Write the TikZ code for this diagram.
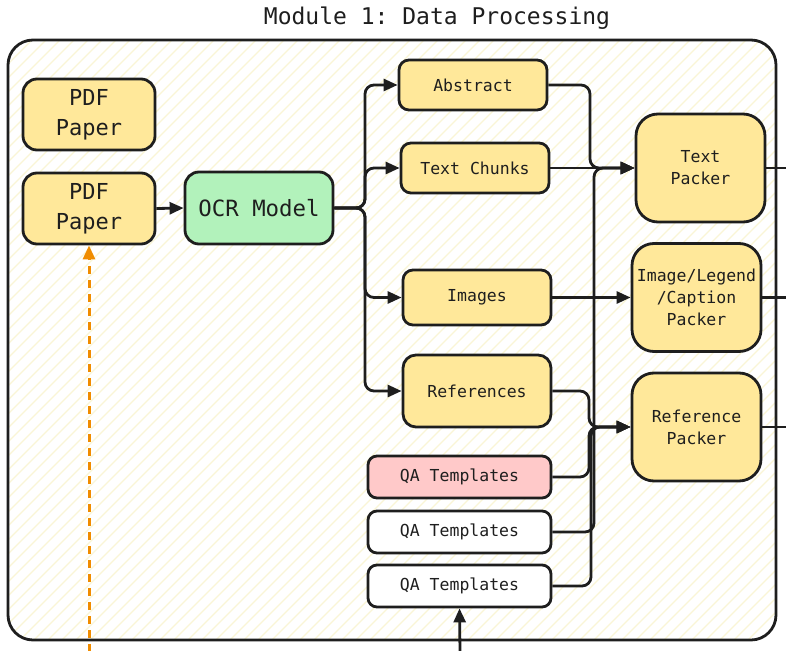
\documentclass[tikz,border=0pt]{standalone}
\usepackage{fontspec}
\setmonofont{DejaVu Sans Mono}
\usetikzlibrary{arrows.meta}
\definecolor{ink}{HTML}{1E1E1E}
\definecolor{boxyellow}{HTML}{FFE89A}
\definecolor{boxgreen}{HTML}{B2F2BB}
\definecolor{boxpink}{HTML}{FFC9C9}
\definecolor{hatch}{HTML}{FAF5D6}
\definecolor{orangeline}{HTML}{F08C00}
\tikzset{
  base/.style={draw=ink, line width=2.8pt, inner sep=0pt, align=center, text=ink},
  bigbox/.style={base, fill=boxyellow, rounded corners=14pt, minimum width=132pt, minimum height=71pt,
    font=\ttfamily\fontsize{22}{30}\selectfont},
  ocrbox/.style={base, fill=boxgreen, rounded corners=14pt, minimum width=148pt, minimum height=72pt,
    font=\ttfamily\fontsize{22.4}{30}\selectfont},
  smallbox/.style={base, rounded corners=10pt, minimum width=148pt, minimum height=50pt,
    font=\ttfamily\fontsize{16.5}{22}\selectfont},
  yb/.style={smallbox, fill=boxyellow},
  qabox/.style={smallbox, minimum width=183pt, minimum height=42pt, rounded corners=9pt},
  packbox/.style={base, fill=boxyellow, rounded corners=22pt, minimum width=129pt, minimum height=108pt,
    font=\ttfamily\fontsize{16.5}{22}\selectfont},
  conn/.style={draw=ink, line width=2.8pt, rounded corners=9pt, -{Triangle[length=14pt,width=12pt]}},
  plainconn/.style={draw=ink, line width=2.8pt},
  dashconn/.style={draw=orangeline, line width=3pt, dash pattern=on 8pt off 6pt, -{Triangle[length=14pt,width=12pt]}},
}
\begin{document}
\begin{tikzpicture}[x=1pt,y=-1pt]
\useasboundingbox (0,0) rectangle (786,650);
\fill[white] (0,0) rectangle (786,650);
% frame with hatching
\begin{scope}
  \clip[rounded corners=25pt] (8,40) rectangle (776,640);
  \foreach \k in {-700,-686,...,800} {
    \draw[hatch, line width=1.1pt] (\k,660) -- (\k+660,0);
  }
\end{scope}
\draw[ink, line width=2.8pt, rounded corners=25pt] (8,40) rectangle (776,640);
\node[font=\ttfamily\fontsize{23}{26}\selectfont, text=ink] (title) at (437,18) {Module 1: Data Processing};

% nodes
\node[bigbox] (pdf1) at (89,114.5) {PDF\\Paper};
\node[bigbox] (pdf2) at (89,208.5) {PDF\\Paper};
\node[ocrbox] (ocr) at (259,208) {OCR Model};
\node[yb] (abs) at (473,85) {Abstract};
\node[yb] (chunks) at (475,168) {Text Chunks};
\node[yb, minimum height=55pt] (images) at (477,297.5) {Images};
\node[yb, minimum height=72pt, rounded corners=13pt] (refs) at (477,391) {References};
\node[qabox, fill=boxpink] (qa1) at (459.5,477) {QA Templates};
\node[qabox, fill=white] (qa2) at (459.5,532) {QA Templates};
\node[qabox, fill=white] (qa3) at (459.5,586) {QA Templates};
\node[packbox] (tp) at (700.5,168) {Text\\Packer};
\node[packbox] (ip) at (696.5,297.5) {Image/Legend\\/Caption\\Packer};
\node[packbox] (rp) at (696.5,427) {Reference\\Packer};

% free ends
\coordinate (tpout) at (786,168);
\coordinate (ipout) at (786,297.5);
\coordinate (rpout) at (786,427);
\coordinate (qain) at (460,652);
\coordinate (pdfin) at (89,652);

% connectors
\draw[conn] (pdf2.east) -- (ocr.west);
\draw[conn] (ocr.east) -- (365,208) -- (365,85) -- (abs.west);
\draw[conn] (ocr.east) -- (365,208) -- (365,168) -- (chunks.west);
\draw[conn] (ocr.east) -- (365,208) -- (365,297.5) -- (images.west);
\draw[conn] (ocr.east) -- (365,208) -- (365,391) -- (refs.west);

\draw[conn] (abs.east) -- (590,85) -- (590,168) -- (tp.west);
\draw[conn] (chunks.east) -- (tp.west);
\draw[conn] (qa2.east) -- (594,532) -- (594,168) -- (tp.west);
\draw[conn] (images.east) -- (ip.west);
\draw[conn] (refs.east) -- (589,391) -- (589,427) -- (rp.west);
\draw[conn] (qa1.east) -- (589,477) -- (589,427) -- (rp.west);
\draw[conn] (qa3.east) -- (591,586) -- (591,427) -- (rp.west);

\draw[plainconn] (tp.east) -- (tpout);
\draw[plainconn] (ip.east) -- (ipout);
\draw[plainconn] (rp.east) -- (rpout);

\draw[conn] (qain) -- (qa3.south);
\draw[dashconn] (pdfin) -- (pdf2.south);
\end{tikzpicture}
\end{document}
